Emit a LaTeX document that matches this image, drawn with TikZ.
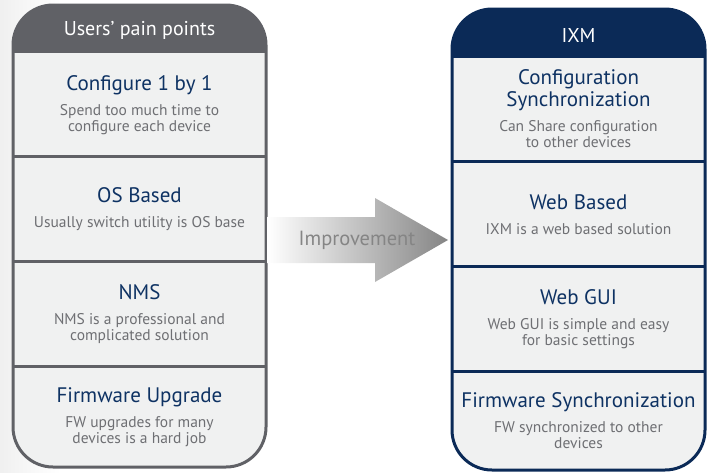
\documentclass[tikz,border=0pt]{standalone}
\usepackage{fontspec}
\setmainfont{PT Sans}
\usetikzlibrary{positioning}
\definecolor{paingray}{HTML}{606166}
\definecolor{ixmnavy}{HTML}{0B2A57}
\definecolor{cellfill}{HTML}{F0F1F1}
\definecolor{titleblue}{HTML}{0E3263}
\definecolor{descgray}{HTML}{6E6F73}
\definecolor{arrowgray}{HTML}{858585}
\newcommand{\celltext}[2]{\parbox{250pt}{\centering
	\fontsize{21}{22}\selectfont\color{titleblue}#1\par\vspace{9pt}
	\fontsize{15.5}{16}\selectfont\color{descgray}#2\par}}
\tikzset{
	cell/.style = {minimum width = 253pt, inner sep = 0pt},
	headtext/.style = {text = white, font = \fontsize{20}{22}\selectfont},
	painframe/.style = {draw = paingray, line width = 3pt, rounded corners = 40pt},
	ixmframe/.style = {draw = ixmnavy, line width = 3pt, rounded corners = 40pt}
}
\begin{document}
\begin{tikzpicture}[x=1pt, y=-1pt]
			\useasboundingbox (0,0) rectangle (709,472);
			\shade[left color = black!6, right color = white] (0,0) rectangle (60,472);

			% users' pain points
			\fill[cellfill, rounded corners = 40pt] (13,5) rectangle (266,467);
			\begin{scope}
				\clip[rounded corners = 40pt] (13,5) rectangle (266,467);
				\fill[paingray] (13,5) rectangle (266,53);
			\end{scope}
			\node [headtext] (painhead) at (139.5,30.5) {Users’ pain points};
			\foreach\i/\yc/\h/\ttl/\dsc in {
				1/105/104/{Configure 1 by 1}/{Spend too much time to\\configure each device},
				2/209.5/105/{OS Based}/{Usually switch utility is OS base},
				3/314.5/105/{NMS}/{NMS is a professional and\\complicated solution},
				4/417/100/{Firmware Upgrade}/{FW upgrades for many\\devices is a hard job}}{
				\node [cell, minimum height = \h pt] (p\i) at (139.5,\yc) {\celltext{\ttl}{\dsc}};
			}
			\foreach\i in {2,3,4}{
				\draw [paingray, line width = 3pt] (p\i.north west) -- (p\i.north east);
			}
			\path [painframe] (13,5) rectangle (266,467);

			% IXM
			\fill[cellfill, rounded corners = 40pt] (452,9) rectangle (705,470);
			\begin{scope}
				\clip[rounded corners = 40pt] (452,9) rectangle (705,470);
				\fill[ixmnavy] (452,9) rectangle (705,58);
			\end{scope}
			\node [headtext] (ixmhead) at (578.5,35.5) {IXM};
			\foreach\i/\yc/\h/\ttl/\dsc in {
				1/109/104/{Configuration\\Synchronization}/{Can Share configuration\\to other devices},
				2/214.5/105/{Web Based}/{IXM is a web based solution},
				3/319.5/105/{Web GUI}/{Web GUI is simple and easy\\for basic settings},
				4/421/98/{Firmware Synchronization}/{FW synchronized to other\\devices}}{
				\node [cell, minimum height = \h pt] (x\i) at (578.5,\yc) {\celltext{\ttl}{\dsc}};
			}
			\foreach\i in {2,3,4}{
				\draw [ixmnavy, line width = 3pt] (x\i.north west) -- (x\i.north east);
			}
			\path [ixmframe] (452,9) rectangle (705,470);

			% improvement arrow
			\shade [left color = white, right color = arrowgray]
				(267,217) -- (375,217) -- (375,198) -- (448,240) -- (375,282) -- (375,263) -- (267,263) -- cycle;
			\node [text = arrowgray, font = \fontsize{20.5}{22}\selectfont] (improve) at (357,240) {Improvement};
		\end{tikzpicture}
\end{document}
